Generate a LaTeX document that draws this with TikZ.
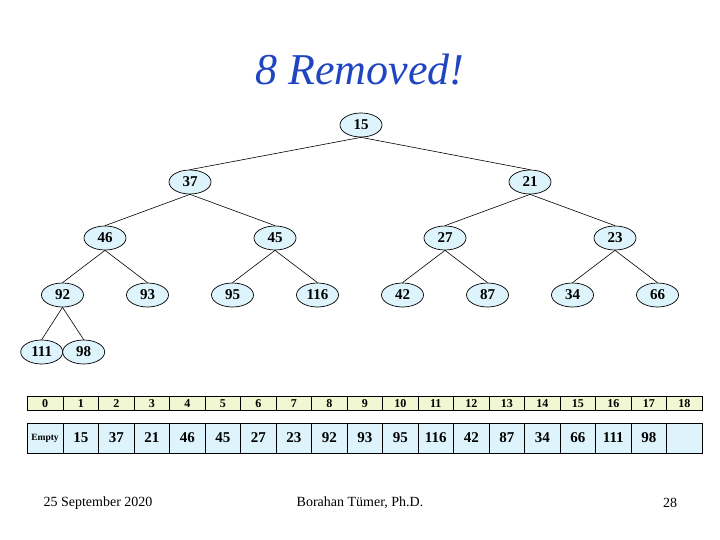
\documentclass[tikz,border=0pt]{standalone}
\usepackage{fontspec}
\setmainfont{Liberation Serif}
\usetikzlibrary{shapes.geometric, positioning}
\definecolor{nodefill}{HTML}{DDF4FC}
\definecolor{idxfill}{HTML}{F1F7D2}
\definecolor{titleblue}{HTML}{1F45C0}

\begin{document}
\begin{tikzpicture}[x=1pt, y=-1pt,
    heapnode/.style={ellipse, draw, line width=0.7pt, fill=nodefill, minimum width=42pt, minimum height=24pt, inner sep=0pt, font=\fontsize{15}{15}\selectfont\bfseries},
    idxcell/.style={draw, line width=0.7pt, fill=idxfill, minimum height=14pt, inner sep=0pt, font=\fontsize{12}{12}\selectfont\bfseries},
    valcell/.style={draw, line width=0.7pt, fill=nodefill, minimum height=30pt, inner sep=0pt, font=\fontsize{15}{15}\selectfont\bfseries},
    treeline/.style={line width=0.6pt},
    footer/.style={font=\fontsize{14}{14}\selectfont}]
    \useasboundingbox (0,0) rectangle (720,540);
    % title
    \node[titleblue, font=\fontsize{44}{44}\selectfont\itshape] (title) at (360,70) {8 Removed!};
    % heap nodes, numbered as in the array
    \foreach \i/\x/\y/\v in {1/361/125/15, 2/190/182/37, 3/530/182/21,
        4/105/238/46, 5/275/238/45, 6/445/238/27, 7/615/238/23,
        8/62.5/295/92, 9/147.5/295/93, 10/232.5/295/95, 11/317.5/295/116,
        12/402.5/295/42, 13/487.5/295/87, 14/572.5/295/34, 15/657.5/295/66,
        16/41.7/352/111, 17/83.7/352/98} {
      \node[heapnode] (n\i) at (\x,\y) {\v};
    }
    % parent links
    \foreach \c [evaluate=\c as \p using int(floor(\c/2))] in {2,...,17} {
      \draw[treeline] (n\p.south) -- (n\c.north);
    }
    % array: index row and value row
    \node[idxcell, minimum width=36pt] (idx0) at (45,403.5) {0};
    \node[valcell, minimum width=36pt, font=\fontsize{9.5}{9.5}\selectfont\bfseries] (val0) at (45,438) {Empty};
    \foreach \i in {1,...,18} {
      \node[idxcell, minimum width=35.5pt] (idx\i) at ({63+35.5*(\i-0.5)},403.5) {\i};
    }
    \foreach \v [count=\i] in {15,37,21,46,45,27,23,92,93,95,116,42,87,34,66,111,98,{}} {
      \node[valcell, minimum width=35.5pt] (val\i) at ({63+35.5*(\i-0.5)},438) {\v};
    }
    % footer
    \node[footer] (date) at (98,503) {25 September 2020};
    \node[footer] (author) at (360,503) {Borahan Tümer, Ph.D.};
    \node[footer] (page) at (670,503) {28};
\end{tikzpicture}
\end{document}
